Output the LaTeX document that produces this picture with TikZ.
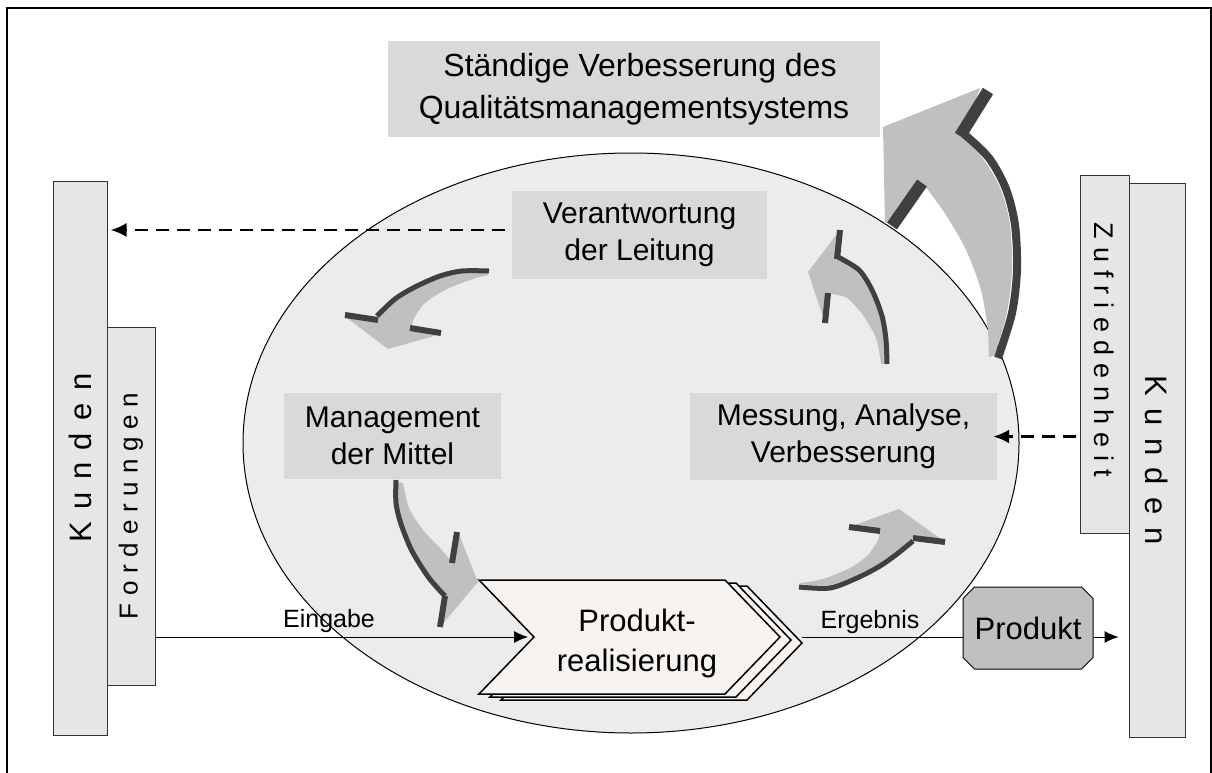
\documentclass[tikz,border=0pt]{standalone}
\usepackage{fontspec}
\setmainfont{Liberation Sans}
\newfontfamily\spacedfont[LetterSpace=40]{Liberation Sans}
\newfontfamily\spacedfontb[LetterSpace=30]{Liberation Sans}
\usetikzlibrary{shapes.misc,shapes.geometric,arrows.meta}
\definecolor{ellfill}{HTML}{ECECEC}
\definecolor{boxfill}{HTML}{D9D9D9}
\definecolor{barfill}{HTML}{E6E6E6}
\definecolor{agray}{HTML}{C0C0C0}
\definecolor{adark}{HTML}{404040}
\definecolor{chevfill}{HTML}{F6F3F0}
\definecolor{prodfill}{HTML}{C0C0C0}
\begin{document}
\begin{tikzpicture}[x=1pt,y=-1pt,
  bar/.style={draw=black!80, fill=barfill, line width=1pt, inner sep=0pt},
  tbox/.style={fill=boxfill, inner sep=0pt, align=center, font=\fontsize{30}{37}\selectfont},
  darkline/.style={draw=adark, line width=5pt},
  barb/.style={draw=adark, line width=6pt},
  bigbarb/.style={draw=adark, line width=12pt},
  dasharrow/.style={dash pattern=on 13pt off 8pt, line width=2.6pt, -{Latex[length=16pt,width=14pt]}},
  solidarrow/.style={line width=1pt, -{Latex[length=14pt,width=12pt]}},
  chev/.style={draw=black, line width=1.5pt, fill=chevfill, line join=miter},
  lbl/.style={font=\fontsize{25}{30}\selectfont, inner sep=0pt, anchor=base},
  vtext/.style={inner sep=0pt}
]
\useasboundingbox (0,0) rectangle (1212,773);
% frame
\draw[line width=1.2pt] (7,773) -- (7,8) -- (1211,8) -- (1211,773);
% ellipse
\node[draw=black, line width=1pt, fill=ellfill, ellipse, minimum width=776pt, minimum height=580pt, inner sep=0pt] (ell) at (631,443) {};
% bars
\node[bar, minimum width=54pt, minimum height=554pt] (kl) at (80,458) {};
\node[bar, minimum width=48pt, minimum height=358pt] (fo) at (131,506) {};
\node[bar, minimum width=49pt, minimum height=358pt] (zr) at (1104.5,354) {};
\node[bar, minimum width=56pt, minimum height=554pt] (kr) at (1157,460) {};
\node[vtext, rotate=90, font=\spacedfont\fontsize{31}{36}\selectfont] (klt) at (kl.center) {Kunden};
\node[vtext, rotate=90, font=\spacedfontb\fontsize{26}{30}\selectfont] (fot) at (fo.center) {Forderungen};
\node[vtext, rotate=-90, font=\spacedfontb\fontsize{27}{30}\selectfont] (zrt) at ([yshift=4pt]zr.center) {Zufriedenheit};
\node[vtext, rotate=-90, font=\spacedfont\fontsize{31}{36}\selectfont] (krt) at (kr.center) {Kunden};
% text boxes
\node[tbox, minimum width=492pt, minimum height=96pt, font=\fontsize{32}{42}\selectfont] (top) at (634,89) {\hspace*{12pt}Ständige Verbesserung des\\Qualitätsmanagementsystems};
\node[tbox, minimum width=255pt, minimum height=88pt] (vl) at (639.5,235) {Verantwortung\\der Leitung};
\node[tbox, minimum width=217pt, minimum height=86pt] (mm) at (392.5,436) {Management\\der Mittel};
\node[tbox, minimum width=307pt, minimum height=87pt] (mb) at (843.5,436.5) {Messung, Analyse,\\Verbesserung};
% curved arrow A (Leitung -> Mittel)
\fill[agray] plot[smooth] coordinates {(488,273) (462,273) (440,278) (415,289) (395,301) (378,317)} -- (347,318) -- (388,349) -- (441,334) -- (411,327)
  -- plot[smooth] coordinates {(414,318) (425,303) (445,290) (470,280) (488,275)} -- cycle;
\draw[darkline] plot[smooth] coordinates {(489,271) (462,271) (440,276) (415,287) (395,299) (377,316)};
\draw[barb] (345,315) -- (378,320);
\draw[barb] (410,328) -- (441,333);
% curved arrow B (Mittel -> Produktrealisierung)
\fill[agray] plot[smooth] coordinates {(398,482) (398,503) (403,523) (414,550) (431,577) (446,595)} -- (440,627) -- (478,582) -- (458,532) -- (452,562)
  -- plot[smooth] coordinates {(450,560) (440,548) (423,530) (409,508) (403,483)} -- cycle;
\draw[darkline] plot[smooth] coordinates {(396,480) (396,503) (401,524) (412,551) (429,578) (445,596)};
\draw[barb] (457,532) -- (452,563);
\draw[barb] (445,596) -- (440,627);
% curved arrow C (Produkt -> Messung)
\fill[agray] plot[smooth] coordinates {(799,584) (830,585) (857,575) (880,563) (897,551) (913,539)} -- (945,542) -- (899,509) -- (849,527) -- (880,531)
  -- plot[smooth] coordinates {(878,540) (868,555) (850,568) (823,579) (800,583)} -- cycle;
\draw[darkline] plot[smooth] coordinates {(799,587) (830,588) (857,578) (880,566) (897,554) (913,541)};
\draw[barb] (849,527) -- (880,531);
\draw[barb] (913,538) -- (945,542);
% curved arrow D (Messung -> Leitung)
\fill[agray] plot[smooth] coordinates {(885,364) (884,340) (880,317) (870,292) (857,272) (838,259)} -- (840,230) -- (808,272) -- (825,323) -- (828,293)
  -- plot[smooth] coordinates {(832,294) (847,298) (862,314) (876,338) (881,364)} -- cycle;
\draw[darkline] plot[smooth] coordinates {(887,364) (886,340) (882,316) (872,290) (859,270) (838,257)};
\draw[barb] (840,230) -- (837,259);
\draw[barb] (828,293) -- (825,323);
% big arrow E (continual improvement)
\fill[agray] plot[smooth] coordinates {(962,137) (984,160) (1001,190) (1010,225) (1012,270) (1007,312) (995,355)} -- (989,357)
  -- plot[smooth] coordinates {(988,330) (981,290) (966,250) (946,215) (925,186)} -- (885,224) -- (883,127) -- (980,88) -- cycle;
\draw[draw=adark, line width=8pt] plot[smooth] coordinates {(964,134) (989,158) (1006,189) (1015,225) (1017,270) (1012,313) (998,358)};
\draw[bigbarb] (988,91) -- (960,136);
\draw[bigbarb] (922,183) -- (892,226);
% chevron (Produktrealisierung)
\foreach \dx/\dy in {22/6, 11/3, 0/0}{
  \draw[chev, shift={(\dx,\dy)}] (479,580) -- (725,580) -- (780,637) -- (725,694) -- (479,694) -- (534,637) -- cycle;
}
\coordinate (chin) at (534,637);
\coordinate (chout) at (802,637);
\node[font=\fontsize{31}{40}\selectfont, align=center, inner sep=0pt] (prt) at (637,643) {Produkt-\\realisierung};
% Produkt
\node[chamfered rectangle, chamfered rectangle xsep=8pt, draw=black, line width=1pt, fill=prodfill, minimum width=130pt, minimum height=82pt, inner sep=0pt, font=\fontsize{31}{36}\selectfont] (prod) at (1028,628) {Produkt};
% connectors
\coordinate (d1) at (0,230);
\draw[solidarrow] (fo.east |- chin) -- ([xshift=-6pt]chin);
\draw[line width=1pt] (chout) -- (prod.west |- chout);
\draw[solidarrow] (prod.east |- chout) -- ([xshift=-10pt]kr.west |- chout);
\draw[dasharrow] ([xshift=-7pt]vl.west |- d1) -- ([xshift=3pt]kl.east |- d1);
\draw[dasharrow] ([xshift=-4pt]zr.west |- mb.east) -- ([xshift=-4pt]mb.east);
% labels
\node[lbl] (eing) at (329,627) {Eingabe};
\node[lbl] (erg) at (870,628) {Ergebnis};
\end{tikzpicture}
\end{document}
